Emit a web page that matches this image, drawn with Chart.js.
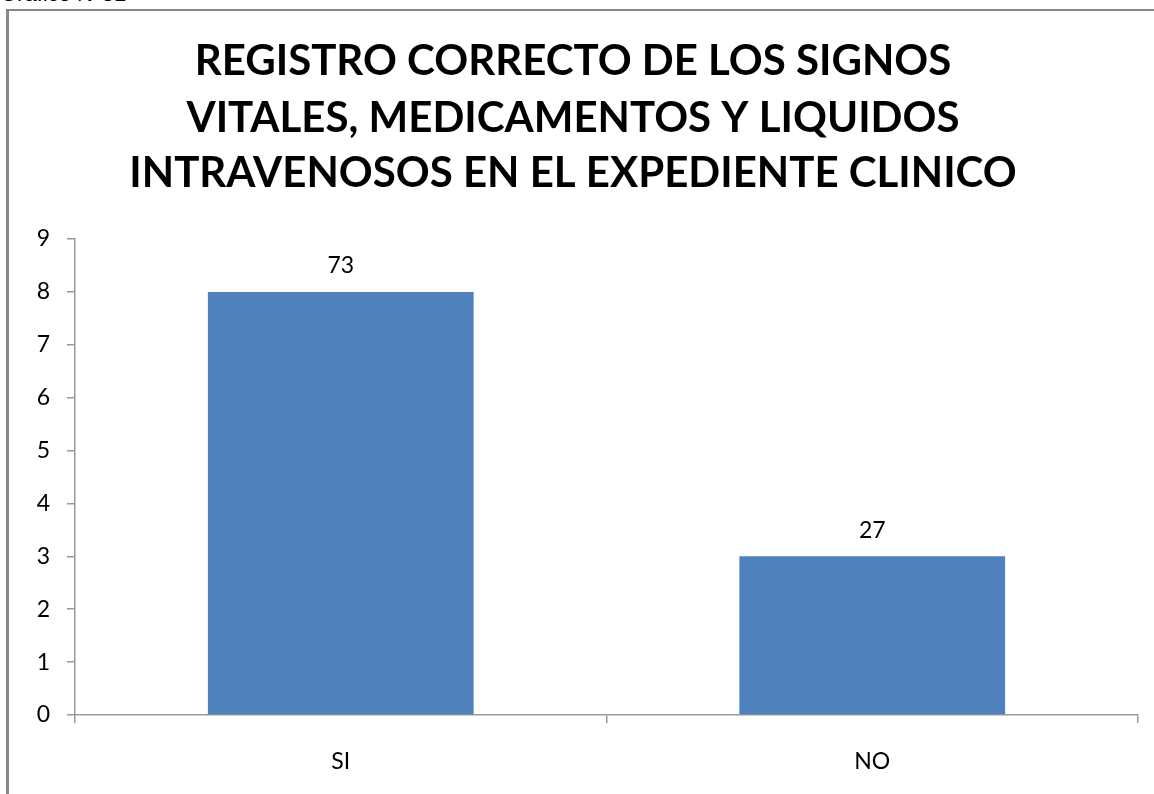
<!DOCTYPE html>
<html>
<head>
<meta charset="utf-8">
<script src="https://cdn.jsdelivr.net/npm/chart.js@4/dist/chart.umd.min.js"></script>
<style>
  html, body { margin: 0; padding: 0; background: #ffffff; overflow: hidden; }
  #wrap { position: relative; width: 1154px; height: 794px; }
  #caption { position: absolute; left: 0; top: -17px; font: 22px "Liberation Sans", Arial, sans-serif; line-height: 22px; color: #000; white-space: nowrap; }
  #frame { position: absolute; left: 6px; top: 9px; width: 2000px; height: 2000px; border-left: 3px solid #878787; border-top: 2px solid #878787; }
  #c { position: absolute; left: 0; top: 0; }
</style>
</head>
<body>
<div id="wrap">
  <div id="caption">Gráfico N°31</div>
  <div id="frame"></div>
  <canvas id="c" width="1154" height="794"></canvas>
</div>
<script>
const titleLines = [
  "REGISTRO CORRECTO DE LOS SIGNOS",
  "VITALES, MEDICAMENTOS Y LIQUIDOS",
  "INTRAVENOSOS EN EL EXPEDIENTE CLINICO"
];
const categories = ["SI", "NO"];
const counts = [8, 3];
const percentLabels = ["73", "27"];
const yTicks = [0, 1, 2, 3, 4, 5, 6, 7, 8, 9];

const axisColor = "#999999";
const barColor = "#4F81BD";
const labelFont = "Lato, 'Open Sans', sans-serif";

const overlay = {
  id: "overlay",
  afterDatasetsDraw(chart) {
    const ctx = chart.ctx;
    ctx.save();
    ctx.fillStyle = "#000";
    ctx.textAlign = "center";
    ctx.textBaseline = "middle";
    ctx.font = "23px " + labelFont;
    const meta = chart.getDatasetMeta(0);
    meta.data.forEach((bar, i) => {
      ctx.fillText(percentLabels[i], bar.x, bar.y - 26);
    });
    ctx.restore();
  },
  afterDraw(chart) {
    const ctx = chart.ctx;
    ctx.save();
    ctx.fillStyle = "#000";
    ctx.textAlign = "center";
    ctx.textBaseline = "alphabetic";
    let size = 40;
    ctx.font = "bold " + size + "px " + labelFont;
    const w = ctx.measureText(titleLines[2]).width;
    size = Math.round(size * 895 / w);
    ctx.font = "bold " + size + "px " + labelFont;
    const baselines = [75, 132, 187];
    titleLines.forEach((t, i) => ctx.fillText(t, 573, baselines[i]));
    ctx.restore();
  }
};

new Chart(document.getElementById("c"), {
  type: "bar",
  data: {
    labels: categories,
    datasets: [{
      data: counts,
      backgroundColor: barColor,
      borderWidth: 0,
      categoryPercentage: 1.0,
      barPercentage: 0.5
    }]
  },
  options: {
    responsive: false,
    animation: false,
    layout: { padding: { top: 239, left: 0, right: 16, bottom: 0 } },
    plugins: {
      legend: { display: false },
      title: { display: false },
      tooltip: { enabled: false }
    },
    scales: {
      x: {
        afterFit(scale) { scale.height = 79; },
        grid: {
          offset: true,
          drawOnChartArea: false,
          drawTicks: true,
          tickLength: 8,
          color: axisColor,
          lineWidth: 1.5
        },
        border: { display: true, color: axisColor, width: 1.5 },
        ticks: {
          color: "#000",
          padding: 25,
          font: { family: labelFont, size: 23 }
        }
      },
      y: {
        min: 0,
        max: 9,
        afterFit(scale) { scale.width = 75; },
        afterBuildTicks(scale) { scale.ticks = yTicks.map(v => ({ value: v })); },
        grid: {
          drawOnChartArea: false,
          drawTicks: true,
          tickLength: 8,
          color: axisColor,
          lineWidth: 1.5
        },
        border: { display: true, color: axisColor, width: 1.5 },
        ticks: {
          color: "#000",
          padding: 17,
          font: { family: labelFont, size: 23 }
        }
      }
    }
  },
  plugins: [overlay]
});
</script>
</body>
</html>
